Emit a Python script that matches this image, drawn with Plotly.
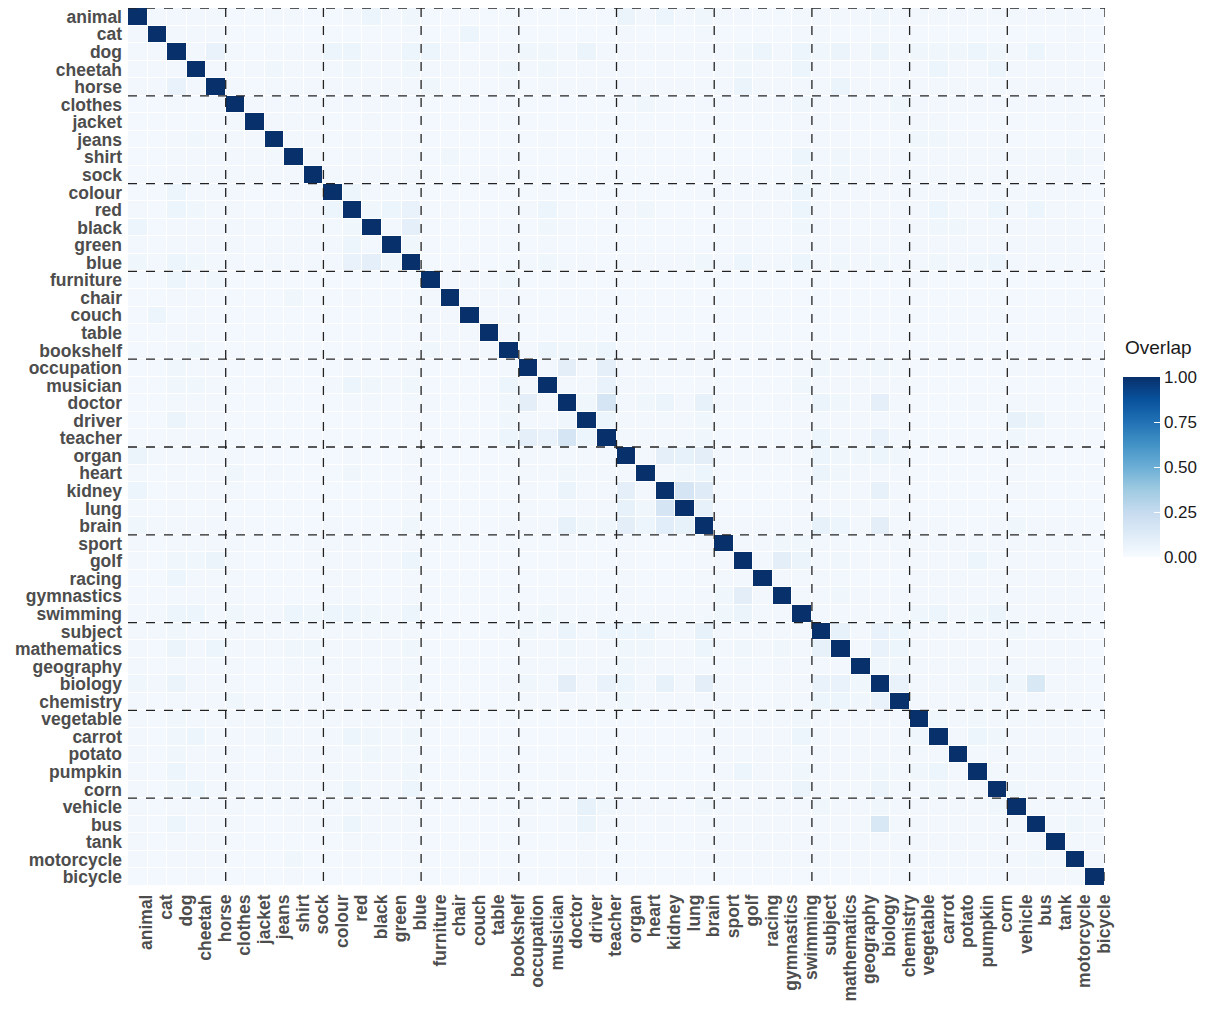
import plotly.graph_objects as go

labels = ["animal", "cat", "dog", "cheetah", "horse",
          "clothes", "jacket", "jeans", "shirt", "sock",
          "colour", "red", "black", "green", "blue",
          "furniture", "chair", "couch", "table", "bookshelf",
          "occupation", "musician", "doctor", "driver", "teacher",
          "organ", "heart", "kidney", "lung", "brain",
          "sport", "golf", "racing", "gymnastics", "swimming",
          "subject", "mathematics", "geography", "biology", "chemistry",
          "vegetable", "carrot", "potato", "pumpkin", "corn",
          "vehicle", "bus", "tank", "motorcycle", "bicycle"]

group_size = 5

colorbar_ticks = [0, 0.25, 0.5, 0.75, 1.0]
colorbar_ticktext = ["0.00", "0.25", "0.50", "0.75", "1.00"]

# overlap values in percent, row = y label, column = x label
overlap_pct = [
    [100,3,3,3,3, 2,2,3,3,2, 2,3,5,3,4, 2,2,2,2,2, 2,2,2,2,2, 6,3,5,3,4, 3,3,2,2,3, 3,3,3,4,3, 3,3,3,3,3, 3,3,3,3,2],
    [3,100,3,3,3, 2,2,2,2,2, 2,2,2,2,3, 2,2,5,2,2, 2,2,2,2,2, 3,2,2,2,3, 2,2,2,2,3, 3,2,2,3,2, 2,2,2,2,2, 2,2,2,3,2],
    [3,3,100,3,7, 3,2,3,3,3, 5,5,3,3,5, 5,3,2,3,3, 4,4,3,6,3, 3,3,3,3,3, 3,4,5,3,5, 4,6,3,6,3, 4,4,4,5,4, 3,5,3,3,2],
    [3,3,3,100,3, 2,3,4,3,3, 3,4,3,3,4, 3,3,3,3,4, 3,4,3,3,3, 3,2,3,2,3, 3,4,3,3,5, 3,3,3,3,3, 3,5,3,3,5, 3,3,3,3,3],
    [3,3,7,3,100, 3,2,3,3,3, 3,3,3,3,3, 4,2,2,2,3, 2,3,3,3,3, 3,3,3,3,3, 3,6,3,3,3, 3,6,3,3,3, 3,3,3,3,3, 3,3,3,3,2],
    [2,2,3,2,3, 100,3,3,3,3, 3,3,3,3,3, 2,2,2,2,2, 2,2,2,2,2, 3,4,3,2,3, 3,3,3,3,4, 3,3,3,3,4, 3,3,3,3,3, 3,3,3,3,2],
    [2,2,2,2,2, 3,100,3,3,3, 2,2,3,2,2, 2,2,2,2,2, 2,2,2,2,2, 2,2,2,2,2, 2,2,2,2,3, 3,3,2,2,3, 3,3,2,2,2, 2,2,2,3,2],
    [2,2,3,4,3, 3,3,100,3,3, 2,3,2,3,3, 2,2,2,2,2, 2,3,2,2,2, 2,3,2,2,2, 2,2,2,2,3, 3,3,2,2,2, 4,4,3,3,3, 2,2,2,2,2],
    [2,2,3,3,3, 3,3,3,100,3, 2,3,3,3,3, 2,4,2,2,2, 2,2,2,2,2, 2,2,2,2,2, 2,2,2,2,5, 3,4,3,3,3, 3,3,3,3,3, 3,3,3,4,3],
    [2,2,3,3,3, 3,3,3,3,100, 3,3,3,3,3, 2,2,2,3,2, 2,2,2,2,2, 2,2,2,2,2, 3,3,2,2,4, 3,4,3,3,3, 3,3,3,3,3, 3,3,3,3,2],
    [2,2,5,3,3, 3,2,2,3,3, 100,5,3,3,3, 2,2,2,2,2, 2,3,2,2,2, 2,2,2,2,3, 3,3,3,3,5, 3,3,3,3,3, 3,3,3,3,3, 3,3,3,3,2],
    [3,2,5,4,3, 3,2,3,3,3, 5,100,4,5,7, 2,3,2,2,2, 3,5,3,2,2, 3,4,2,2,2, 3,3,3,3,5, 3,3,3,3,3, 3,5,3,3,5, 3,5,3,3,2],
    [5,2,3,3,3, 3,3,2,3,3, 3,4,100,3,9, 2,2,2,2,2, 2,4,3,2,2, 2,2,2,2,2, 2,3,2,2,4, 3,3,2,3,3, 3,4,4,3,3, 3,3,3,3,2],
    [3,2,3,3,3, 3,2,3,3,3, 3,5,3,100,4, 2,2,2,2,2, 2,3,2,2,2, 2,2,2,2,2, 2,3,2,2,3, 3,3,3,3,3, 3,3,3,3,3, 3,3,3,3,2],
    [4,3,5,4,3, 3,2,3,3,3, 3,7,9,4,100, 2,2,3,2,2, 3,4,3,3,2, 3,3,3,3,4, 3,5,3,3,5, 3,4,3,4,3, 3,4,3,4,5, 3,3,3,3,2],
    [2,2,5,3,4, 2,2,2,2,2, 2,2,2,2,2, 100,3,3,3,4, 2,2,3,2,2, 2,2,2,2,2, 2,2,2,2,2, 2,2,2,2,2, 3,2,2,2,2, 2,2,2,2,2],
    [2,2,3,3,2, 2,2,2,4,2, 2,3,2,2,2, 3,100,3,3,3, 2,2,2,2,2, 2,2,2,2,2, 2,2,2,2,2, 2,2,2,2,2, 2,2,2,2,2, 2,2,2,2,2],
    [2,5,2,3,2, 2,2,2,2,2, 2,2,2,2,3, 3,3,100,3,3, 2,2,2,2,2, 2,2,2,2,2, 2,2,2,2,2, 2,2,2,2,2, 2,2,2,2,2, 2,2,2,3,2],
    [2,2,3,3,2, 2,2,2,2,2, 2,2,2,2,2, 3,3,3,100,3, 2,2,2,2,2, 2,2,2,2,2, 2,2,2,2,2, 2,2,2,2,2, 2,2,2,2,2, 2,2,2,2,2],
    [2,2,3,4,2, 2,2,2,2,2, 2,2,2,2,3, 4,3,3,3,100, 3,5,4,4,5, 2,2,2,2,3, 2,2,2,2,2, 3,2,2,3,2, 2,2,2,2,2, 2,2,2,2,2],
    [2,2,4,3,3, 2,2,2,2,2, 2,3,2,2,3, 2,2,2,2,3, 100,3,10,3,9, 3,3,3,3,3, 2,2,2,2,3, 4,3,3,4,3, 2,2,2,2,2, 3,3,2,2,2],
    [2,2,4,4,3, 2,2,3,2,2, 3,5,4,3,4, 2,2,2,2,5, 3,100,3,3,7, 3,3,2,2,3, 2,2,2,2,4, 3,3,3,3,3, 2,2,2,2,2, 2,2,2,2,2],
    [2,2,3,3,3, 2,2,2,2,2, 2,3,3,2,3, 3,2,2,2,4, 10,3,100,4,17, 3,4,6,3,8, 3,3,2,3,3, 6,4,3,9,3, 2,2,2,3,2, 3,3,2,2,2],
    [2,2,6,3,3, 2,2,2,2,2, 2,2,2,2,3, 2,2,2,2,4, 3,3,4,100,5, 3,3,3,3,4, 2,2,2,2,3, 3,3,3,3,3, 2,2,2,2,2, 8,6,3,3,3],
    [2,2,3,3,3, 2,2,2,2,2, 2,2,2,2,2, 2,2,2,2,5, 9,7,17,5,100, 3,3,3,3,4, 2,2,2,2,3, 5,3,3,7,3, 2,2,2,2,2, 4,3,2,2,2],
    [6,3,3,3,3, 3,2,2,2,2, 2,3,2,2,3, 2,2,2,2,2, 3,3,3,3,3, 100,3,9,8,10, 3,3,3,3,3, 5,4,4,5,4, 2,2,2,2,2, 3,3,2,2,2],
    [3,2,3,2,3, 4,2,3,2,2, 2,4,2,2,3, 2,2,2,2,2, 3,3,4,3,3, 3,100,3,4,5, 2,2,2,2,3, 6,4,3,3,3, 2,2,2,2,2, 3,2,2,2,2],
    [5,2,3,3,3, 3,2,2,2,2, 2,2,2,2,3, 2,2,2,2,2, 3,2,6,3,3, 9,3,100,17,12, 2,2,2,2,3, 3,3,3,8,3, 2,2,2,2,2, 3,3,2,2,2],
    [3,2,3,2,3, 2,2,2,2,2, 2,2,2,2,3, 2,2,2,2,2, 3,2,3,3,3, 8,4,17,100,8, 2,2,2,2,3, 3,3,3,3,3, 2,2,2,2,2, 2,2,2,2,2],
    [4,3,3,3,3, 3,2,2,2,2, 3,2,2,2,4, 2,2,2,2,3, 3,3,8,4,4, 10,5,11,8,100, 3,3,3,3,3, 8,5,3,10,3, 3,3,2,2,3, 4,3,3,3,2],
    [3,2,3,3,3, 3,2,2,2,3, 3,3,2,2,3, 2,2,2,2,2, 2,2,3,2,2, 3,2,2,2,3, 100,3,3,4,4, 3,3,2,3,3, 3,3,3,3,3, 3,3,3,3,2],
    [3,2,4,4,6, 3,2,2,2,3, 3,3,3,3,5, 2,2,2,2,2, 2,2,3,2,2, 3,2,2,2,3, 3,100,3,10,6, 3,4,3,3,3, 3,3,3,5,3, 3,3,3,3,2],
    [2,2,5,3,3, 3,2,2,2,2, 3,3,2,2,3, 2,2,2,2,2, 2,2,2,2,2, 3,2,2,2,3, 3,3,100,3,3, 3,3,2,2,2, 3,3,3,3,3, 3,3,3,3,2],
    [2,2,3,3,3, 3,2,2,2,2, 3,3,2,2,3, 2,2,2,2,2, 2,2,3,2,2, 3,2,2,2,3, 4,10,3,100,3, 3,4,3,3,3, 3,3,3,3,3, 3,3,3,3,2],
    [3,3,5,5,3, 4,3,3,5,4, 5,5,4,3,5, 2,2,2,2,2, 3,4,3,3,3, 3,3,3,3,3, 4,6,3,3,100, 3,3,3,3,3, 4,5,3,4,6, 3,3,3,3,2],
    [3,3,4,3,3, 3,3,3,3,3, 3,3,3,3,3, 2,2,2,2,3, 4,3,6,3,5, 5,6,3,3,8, 3,3,3,3,3, 100,8,3,7,5, 3,3,3,3,3, 4,3,3,3,2],
    [3,2,6,3,5, 3,3,3,4,4, 3,3,3,3,4, 2,2,2,2,2, 3,3,4,3,3, 4,4,3,3,5, 3,4,3,4,3, 8,100,3,7,5, 3,3,3,3,3, 3,3,3,3,2],
    [3,2,3,3,3, 3,2,2,3,3, 3,3,2,3,3, 2,2,2,2,2, 3,3,3,3,3, 4,3,3,3,3, 2,3,2,3,3, 3,3,100,4,4, 3,3,3,3,3, 3,3,3,3,2],
    [4,3,6,3,3, 3,2,2,3,3, 3,3,3,3,4, 2,2,2,2,3, 4,3,10,3,7, 5,3,8,3,10, 3,3,2,3,3, 7,7,4,100,7, 3,3,3,4,6, 4,15,3,3,2],
    [3,2,3,3,3, 4,3,2,3,3, 3,3,3,3,3, 2,2,2,2,2, 3,3,3,3,3, 4,3,3,3,3, 3,3,2,3,3, 5,5,4,7,100, 3,3,3,3,3, 3,3,3,3,2],
    [3,2,4,3,3, 3,3,4,3,3, 3,3,3,3,3, 3,2,2,2,2, 2,2,2,2,2, 2,2,2,2,3, 3,3,3,3,4, 3,3,3,3,3, 100,4,3,4,3, 3,3,3,3,2],
    [3,2,4,5,3, 3,3,4,3,3, 3,5,4,3,4, 2,2,2,2,2, 2,2,2,2,2, 2,2,2,2,3, 3,3,3,3,5, 3,3,3,3,3, 4,100,3,5,4, 3,3,3,3,2],
    [3,2,4,3,3, 3,2,3,3,3, 3,3,4,3,3, 2,2,2,2,2, 2,2,2,2,2, 2,2,2,2,2, 3,3,3,3,3, 3,3,3,3,3, 3,3,100,3,3, 3,3,3,3,2],
    [3,2,5,3,3, 3,2,3,3,3, 3,3,3,3,4, 2,2,2,2,2, 2,2,3,2,2, 2,2,2,2,2, 3,5,3,3,4, 3,3,3,4,3, 4,5,3,100,3, 3,3,3,3,2],
    [3,2,4,5,3, 3,2,3,3,3, 3,5,3,3,5, 2,2,2,2,2, 2,2,2,2,2, 2,2,2,2,3, 3,3,3,3,6, 3,3,3,6,3, 3,4,3,3,100, 4,3,3,3,2],
    [3,2,3,3,3, 3,2,2,3,3, 3,3,3,3,3, 2,2,2,2,2, 3,2,3,8,4, 3,3,3,2,4, 3,3,3,3,3, 4,3,3,4,3, 3,3,3,3,4, 100,3,3,3,3],
    [3,2,5,3,3, 3,2,2,3,3, 3,5,3,3,3, 2,2,2,2,2, 3,2,3,6,3, 3,2,3,2,3, 3,3,3,3,3, 3,3,3,15,3, 3,3,3,3,3, 3,100,3,4,3],
    [3,2,3,3,3, 2,2,2,2,2, 2,3,3,2,3, 2,2,2,2,2, 2,2,2,3,2, 2,2,2,2,3, 3,3,3,3,3, 3,3,3,3,3, 3,3,3,3,3, 3,3,100,3,3],
    [3,2,3,3,3, 2,2,2,4,2, 2,3,2,2,3, 2,2,3,2,2, 2,2,2,3,2, 2,2,2,2,3, 3,3,3,3,3, 3,3,3,3,3, 3,3,3,3,3, 3,4,3,100,3],
    [2,2,2,3,2, 2,2,2,3,2, 2,2,2,2,2, 2,2,2,2,2, 2,2,2,3,2, 2,2,2,2,2, 2,2,2,2,2, 2,2,2,2,2, 2,2,2,2,2, 3,3,3,3,100],
]

z = [[v / 100.0 for v in row] for row in overlap_pct]

blues = [[0.0, "#f7fbff"], [0.125, "#deebf7"], [0.25, "#c6dbef"], [0.375, "#9ecae1"],
         [0.5, "#6baed6"], [0.625, "#4292c6"], [0.75, "#2171b5"], [0.875, "#08519c"],
         [1.0, "#08306b"]]

# page body adds an 8px offset, so the figure is 8px smaller and margins are shifted
W, H = 1204, 1002
ML, MR, MT, MB = 120, 107, 0, 124
plot_w = W - ML - MR
plot_h = H - MT - MB


def px_x(px):
    return (px - 8 - ML) / plot_w


def px_y(py):
    return 1 - (py - 8 - MT) / plot_h


fig = go.Figure(go.Heatmap(
    z=z, x=labels, y=labels,
    colorscale=blues, zmin=0, zmax=1,
    xgap=1, ygap=1,
    hovertemplate="%{y} / %{x}: %{z:.2f}<extra></extra>",
    colorbar=dict(
        x=px_x(1123), xanchor="left", xref="paper",
        y=px_y(467), yanchor="middle",
        len=180, lenmode="pixels", thickness=37, ypad=0, xpad=0,
        outlinewidth=0,
        tickvals=colorbar_ticks,
        ticktext=colorbar_ticktext,
        ticks="inside", ticklen=6, tickcolor="white", tickwidth=1,
        tickfont=dict(size=17, color="#1a1a1a", family="Liberation Sans, Arial, sans-serif"),
    ),
))

n = len(labels)
shapes = []
dash_line = dict(color="#222222", width=1.3, dash="dash")
# vertical separators after every group (incl. right edge)
for b in range(group_size, n + 1, group_size):
    shapes.append(dict(type="line", xref="x", yref="y", x0=b - 0.5, x1=b - 0.5,
                       y0=-0.5, y1=n - 0.5, line=dash_line, layer="above"))
# horizontal separators: top edge and between groups
for b in range(0, n, group_size):
    shapes.append(dict(type="line", xref="x", yref="y", x0=-0.5, x1=n - 0.5,
                       y0=b - 0.5, y1=b - 0.5, line=dash_line, layer="above"))

tick_font = dict(size=17.5, color="#4d4d4d", family="Liberation Sans, Arial, sans-serif",
                 weight="bold")

fig.update_layout(
    width=W, height=H,
    margin=dict(l=ML, r=MR, t=MT, b=MB, autoexpand=False),
    plot_bgcolor="white", paper_bgcolor="white",
    shapes=shapes,
    annotations=[dict(text="Overlap", xref="paper", yref="paper", x=px_x(1123), y=px_y(347),
                      xanchor="left", yanchor="middle", showarrow=False,
                      font=dict(size=19, color="#1a1a1a",
                                family="Liberation Sans, Arial, sans-serif"))],
    xaxis=dict(range=[-0.5, n - 0.5], tickangle=-90, tickfont=tick_font,
               tickmode="array", tickvals=labels, ticktext=labels,
               showgrid=False, zeroline=False, showline=False, ticks="",
               ticklabelstandoff=4, ticklabelshift=9, automargin=False),
    yaxis=dict(range=[n - 0.5, -0.5], tickfont=tick_font,
               tickmode="array", tickvals=labels, ticktext=labels,
               showgrid=False, zeroline=False, showline=False, ticks="",
               ticklabelstandoff=5, automargin=False),
)

fig.write_html("out.html")
